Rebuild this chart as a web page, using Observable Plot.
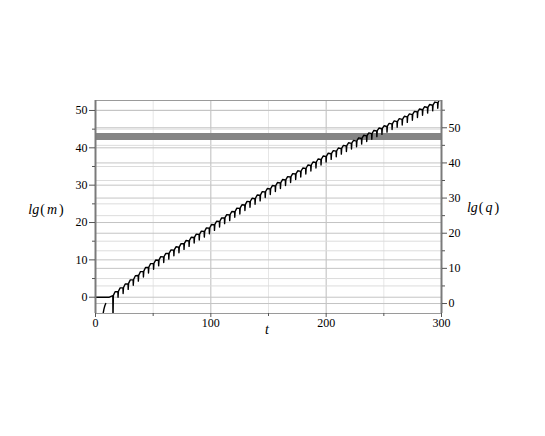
<!DOCTYPE html>
<html><head><meta charset="utf-8">
<script src="https://cdn.jsdelivr.net/npm/d3@7"></script>
<script src="https://cdn.jsdelivr.net/npm/@observablehq/plot@0.6"></script>
<style>body{margin:0;background:#fff} svg text{font-family:'Liberation Serif',serif}</style>
</head><body><div id="chart"></div>
<script>
// ---- data ----
const xTicks = [0, 100, 200, 300];
const xMinorTicks = [50, 150, 250];
const leftTicks = [0, 10, 20, 30, 40, 50];
const leftMinor = [5, 15, 25, 35, 45];
const rightTicks = [0, 10, 20, 30, 40, 50];
const rightMinor = [5, 15, 25, 35, 45, 55];
const leftDomain = [-4.36, 52.67];
const rightDomain = [-2.84, 57.76];
const bandLevel = 43; // lg(m) units
// lg(m): flat start
const startT = [0, 12, 14];
const startV = [0, 0, 0.3];
// times of the sharp downward dips and the value of lg(m) just before each dip
const dipT = [15, 19.4, 23.8, 28.2, 32.6, 37, 41.4, 45.8, 50.2, 54.6, 59, 63.4, 67.8, 72.2, 76.6, 81, 85.4, 89.8, 94.2, 98.6,
  103, 107.4, 111.8, 116.2, 120.6, 125, 129.4, 133.8, 138.2, 142.6, 147, 151.4, 155.8, 160.2, 164.6, 169, 173.4, 177.8,
  182.2, 186.6, 191, 195.4, 199.8, 204.2, 208.6, 213, 217.4, 221.8, 226.2, 230.6, 235, 239.4, 243.8, 248.2, 252.6, 257,
  261.4, 265.8, 270.2, 274.6, 279, 283.4, 287.8, 292.2, 296.6];
const dipTop = [0.4, 1.5, 2.5, 3.6, 4.7, 5.8, 6.9, 8.0, 9.0, 9.9, 10.8, 11.7, 12.6, 13.4, 14.3, 15.1, 16.0, 16.8, 17.6, 18.5,
  19.4, 20.3, 21.2, 22.0, 22.9, 23.8, 24.7, 25.6, 26.4, 27.3, 28.2, 29.0, 29.8, 30.6, 31.4, 32.2, 33.0, 33.7,
  34.5, 35.3, 36.1, 36.9, 37.7, 38.4, 39.1, 39.8, 40.5, 41.2, 41.8, 42.5, 43.2, 43.8, 44.5, 45.1, 45.7, 46.4,
  47.0, 47.6, 48.3, 48.9, 49.6, 50.2, 50.8, 51.4, 52.1];
const dipDepth = 1.5;
const firstDipBottom = -6;
const endT = 300, endV = 52.6;
// lg(q) short initial branch
const qStartT = [6.6, 7.3, 8.1, 8.9];
const qStartV = [-4.4, -3.2, -2.3, -1.7];

// ---- build ----
const SERIF = "'Liberation Serif', serif";
const toLeft = d3.scaleLinear().domain(rightDomain).range(leftDomain);
const curve = [];
startT.forEach((t, i) => curve.push({t, v: startV[i]}));
dipT.forEach((t, k) => {
  const top = dipTop[k];
  const bottom = k === 0 ? firstDipBottom : top - dipDepth;
  const nextT = k + 1 < dipT.length ? dipT[k + 1] : endT;
  const nextV = k + 1 < dipTop.length ? dipTop[k + 1] : endV;
  curve.push({t, v: top});
  curve.push({t: t + 0.15, v: bottom});
  curve.push({t: t + 0.5, v: top + 0.1});
  curve.push({t: t + (nextT - t) * 0.45, v: (top + nextV) / 2 + 0.5});
});
curve.push({t: endT, v: endV});
const qCurve = qStartT.map((t, i) => ({t, v: qStartV[i]}));

const svg = Plot.plot({
  width: 545, height: 436,
  marginLeft: 95, marginRight: 104, marginTop: 100, marginBottom: 123,
  x: {domain: [0, 300]},
  y: {domain: leftDomain},
  style: {fontFamily: SERIF, fontSize: "12px", background: "white", color: "#000"},
  marks: [
    Plot.gridX(xMinorTicks, {stroke: "#e6e6e6", strokeOpacity: 1}),
    Plot.gridX([100, 200], {stroke: "#bdbdbd", strokeOpacity: 1}),
    Plot.gridY(leftMinor, {stroke: "#dcdcdc", strokeOpacity: 1}),
    Plot.gridY(rightMinor.map(toLeft), {stroke: "#dcdcdc", strokeOpacity: 1}),
    Plot.gridY(leftTicks, {stroke: "#c4c4c4", strokeOpacity: 1}),
    Plot.gridY(rightTicks.map(toLeft), {stroke: "#c4c4c4", strokeOpacity: 1}),
    Plot.ruleY([bandLevel], {stroke: "#858585", strokeWidth: 7}),
    Plot.line(curve, {x: "t", y: "v", stroke: "#000", strokeWidth: 1.4, clip: true}),
    Plot.line(qCurve, {x: "t", y: "v", stroke: "#000", strokeWidth: 1.4, clip: true}),
    Plot.frame({stroke: "#9a9a9a"}),
    Plot.ruleX([0, 300], {stroke: "#7a7a7a", strokeWidth: 2}),
    Plot.axisY(leftTicks, {anchor: "left", tickSize: 6, tickPadding: 2, label: null, stroke: "#555", fontFamily: SERIF}),
    Plot.axisY(leftMinor, {anchor: "left", tickSize: 3, tickFormat: () => "", label: null, stroke: "#555"}),
    Plot.axisY(rightTicks.map(toLeft), {anchor: "right", tickSize: 5, tickPadding: 2, label: null, stroke: "#555",
      fontFamily: SERIF, tickFormat: d => String(Math.round(toLeft.invert(d)))}),
    Plot.axisY(rightMinor.map(toLeft), {anchor: "right", tickSize: 3, tickFormat: () => "", label: null, stroke: "#555"}),
    Plot.axisX(xTicks, {anchor: "bottom", tickSize: 4, tickPadding: 1, label: null, stroke: "#555", fontFamily: SERIF}),
    Plot.axisX(xMinorTicks, {anchor: "bottom", tickSize: 3, tickFormat: () => "", label: null, stroke: "#555"})
  ]
});
document.getElementById("chart").appendChild(svg);

// axis titles (Maple-style italic math)
const s = d3.select(svg);
function mathLabel(x, y, v) {
  const t = s.append("text").attr("x", x).attr("y", y).attr("text-anchor", "middle")
    .attr("font-family", SERIF).attr("font-size", 14).attr("fill", "#000");
  t.append("tspan").attr("font-style", "italic").text("lg");
  t.append("tspan").attr("dx", 1).text("(");
  t.append("tspan").attr("font-style", "italic").attr("dx", 2).text(v);
  t.append("tspan").attr("dx", 2).text(")");
}
mathLabel(46, 214, "m");
mathLabel(483, 212, "q");
s.append("text").attr("x", 267).attr("y", 334).attr("text-anchor", "middle")
  .attr("font-family", SERIF).attr("font-size", 14).attr("font-style", "italic").text("t");
</script>
</body></html>
